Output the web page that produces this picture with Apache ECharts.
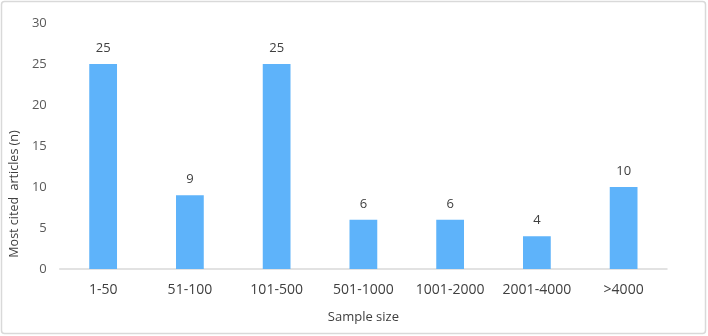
<!DOCTYPE html>
<html><head><meta charset="utf-8">
<script src="https://cdn.jsdelivr.net/npm/echarts@6/dist/echarts.min.js"></script>
<style>html,body{margin:0;padding:0;background:#fff}#c{width:708px;height:336px}</style>
</head><body><div id="c"></div>
<script>
const categories = ['1-50','51-100','101-500','501-1000','1001-2000','2001-4000','>4000'];
const values = [25, 9, 25, 6, 6, 4, 10];
const yTicks = [0, 5, 10, 15, 20, 25, 30];
const xTitle = 'Sample size';
const yTitle = 'Most cited  articles (n)';

const chart = echarts.init(document.getElementById('c'));
chart.setOption({
  animation: false,
  graphic: [{type:'rect', shape:{x:1.5,y:1.5,width:704,height:332,r:3}, style:{fill:'none', stroke:'#d9d9d9', lineWidth:1.5}}],
  grid: {left: 53, right: 41, top: 23, bottom: 67},
  xAxis: {
    type: 'category', data: categories,
    name: xTitle, nameLocation: 'middle', nameGap: 42,
    nameTextStyle: {fontSize: 13, color: '#404040', fontFamily: 'Open Sans'},
    axisLine: {lineStyle: {color: '#d9d9d9', width: 1.5}},
    axisTick: {show: false},
    axisLabel: {interval: 0, fontSize: 14, color: '#404040', margin: 14, fontFamily: 'Open Sans'}
  },
  yAxis: {
    type: 'value', min: yTicks[0], max: yTicks[yTicks.length-1], interval: 5,
    name: yTitle, nameLocation: 'middle', nameGap: 37,
    nameTextStyle: {fontSize: 12.5, color: '#404040', fontFamily: 'Open Sans', padding: [0, 96, 0, 0]},
    splitLine: {show: false},
    axisLine: {show: false}, axisTick: {show: false},
    axisLabel: {fontSize: 13, color: '#595959', margin: 13, fontFamily: 'Open Sans'}
  },
  series: [{
    type: 'bar', data: values, barWidth: '32%',
    itemStyle: {color: '#5EB3FA'},
    label: {show: true, position: 'top', distance: 9, fontSize: 13, color: '#404040', fontFamily: 'Open Sans'}
  }]
});
</script></body></html>
